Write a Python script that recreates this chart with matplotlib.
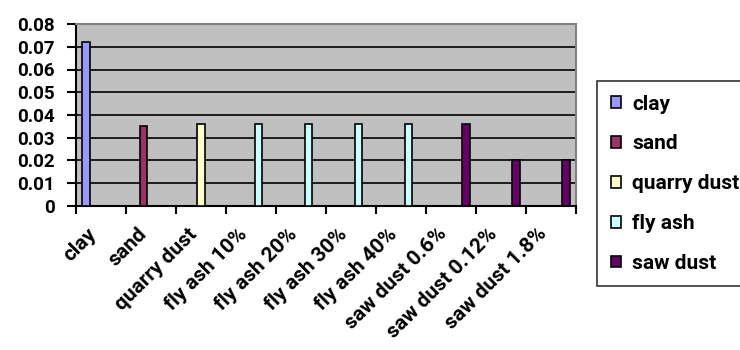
import numpy as np
import matplotlib.pyplot as plt
from matplotlib.patches import Patch
from matplotlib.transforms import ScaledTranslation

plt.rcParams['font.family'] = ['Roboto', 'DejaVu Sans']
plt.rcParams['font.weight'] = 'bold'

categories = ['clay', 'sand', 'quarry dust', 'fly ash 10%', 'fly ash 20%', 'fly ash 30%',
              'fly ash 40%', 'saw dust 0.6%', 'saw dust 0.12%', 'saw dust 1.8%']
values = [0.072, 0.035, 0.036, 0.036, 0.036, 0.036, 0.036, 0.036, 0.02, 0.02]
series_names = ['clay', 'sand', 'quarry dust', 'fly ash', 'saw dust']
series_of = [0, 1, 2, 3, 3, 3, 3, 4, 4, 4]  # which series each bar belongs to
colors = ['#9999FF', '#993366', '#FFFFCC', '#CCFFFF', '#660066']
yticks = [0, 0.01, 0.02, 0.03, 0.04, 0.05, 0.06, 0.07, 0.08]

fig = plt.figure(figsize=(7.4, 3.5), dpi=100)
ax = fig.add_axes([76 / 740, 1 - 206 / 350, 500 / 740, 182 / 350])
ax.set_facecolor('#C0C0C0')

x = np.arange(len(categories))
bw = 0.15
for s in range(len(series_names)):
    idx = [i for i in range(len(categories)) if series_of[i] == s]
    ax.bar(x[idx] + (s - 2) * bw, [values[i] for i in idx], bw,
           color=colors[s], edgecolor='black', linewidth=1.2, zorder=3)

ax.set_xlim(-0.5, len(categories) - 0.5)
ax.set_ylim(0, 0.08)
ax.set_yticks(yticks)
ax.set_yticklabels(['0' if v == 0 else f'{v:.2f}' for v in yticks], fontsize=13.5, fontweight='bold')
for v in yticks[1:-1]:
    ax.axhline(v, color='black', linewidth=1.2, zorder=1)

ax.spines['top'].set_color('#808080')
ax.spines['right'].set_color('#808080')
for sp in ax.spines.values():
    sp.set_linewidth(1.5)
ax.tick_params(axis='y', length=6.5, width=1.5, pad=9)

ax.set_xticks(x)
ax.set_xticks(np.arange(len(categories) + 1) - 0.5, minor=True)
ax.tick_params(axis='x', which='major', length=0, pad=18)
ax.tick_params(axis='x', which='minor', length=6, width=1.5)
ax.set_xticklabels(categories, rotation=45, ha='right', va='center',
                   rotation_mode='anchor', fontsize=15, fontweight='bold')
shift = ScaledTranslation(-0.07, 0, fig.dpi_scale_trans)
for lab in ax.get_xticklabels():
    lab.set_transform(lab.get_transform() + shift)

handles = [Patch(facecolor=c, edgecolor='black', linewidth=1.2) for c in colors]
leg = fig.legend(handles, series_names, loc='upper left',
                 bbox_to_anchor=(597 / 740, 1 - 81 / 350),
                 prop={'weight': 'bold', 'size': 15},
                 frameon=True, fancybox=False, edgecolor='black',
                 handlelength=0.5, handleheight=0.5, handletextpad=0.55,
                 labelspacing=1.0, borderpad=0.65, borderaxespad=0)
leg.get_frame().set_linewidth(1.2)

fig.savefig('out.png', dpi=100)
